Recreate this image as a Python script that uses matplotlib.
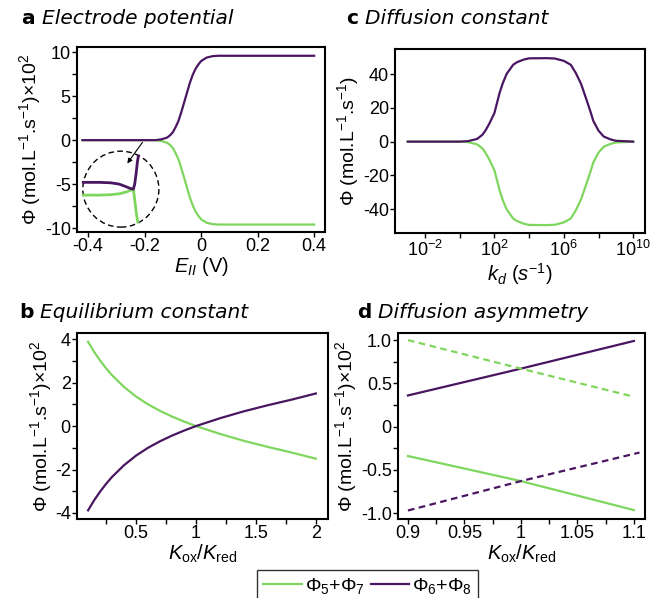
import matplotlib
matplotlib.use('Agg')
import matplotlib.pyplot as plt
from matplotlib.patches import Ellipse
from matplotlib.ticker import MultipleLocator, FixedLocator, NullFormatter

plt.rcParams['font.family'] = ['Liberation Sans', 'DejaVu Sans']
plt.rcParams['mathtext.fontset'] = 'custom'
plt.rcParams['mathtext.rm'] = 'Liberation Sans'
plt.rcParams['mathtext.it'] = 'Liberation Sans:italic'
plt.rcParams['mathtext.bf'] = 'Liberation Sans:bold'
plt.rcParams['axes.unicode_minus'] = False

GREEN = '#7fd65e'
PURPLE = '#4a1661'

# --------------------------
# DATA
# --------------------------

# a: electrode potential
e_ii = [-0.42, -0.2, -0.16, -0.14, -0.12, -0.11, -0.10, -0.09, -0.08, -0.07, -0.06, -0.05,
        -0.04, -0.03, -0.02, -0.01, 0.0, 0.02, 0.04, 0.06, 0.1, 0.4]
phi_a_purple = [0, 0, 0.0, 0.1, 0.3, 0.55, 0.9, 1.5, 2.2, 3.2, 4.3, 5.4,
                6.5, 7.4, 8.1, 8.6, 9.0, 9.4, 9.55, 9.6, 9.6, 9.6]
phi_a_green = [0, 0, 0.0, -0.1, -0.3, -0.55, -0.9, -1.5, -2.2, -3.2, -4.3, -5.4,
               -6.5, -7.4, -8.1, -8.6, -9.0, -9.4, -9.55, -9.6, -9.6, -9.6]

# a: zoomed detail inside the dashed circle
zoom_x_purple = [-0.417, -0.36, -0.32, -0.29, -0.265, -0.25, -0.24, -0.235, -0.23, -0.226, -0.222]
zoom_y_purple = [-4.8, -4.8, -4.85, -5.0, -5.3, -5.5, -5.57, -5.0, -3.8, -2.6, -1.8]
zoom_x_green = [-0.417, -0.36, -0.32, -0.29, -0.265, -0.25, -0.24, -0.236, -0.232, -0.228, -0.224]
zoom_y_green = [-6.25, -6.25, -6.2, -6.1, -5.9, -5.7, -5.57, -6.5, -7.6, -8.6, -9.3]

# c: diffusion constant
kd = [1e-3, 1e-1, 1e0, 3e0, 1e1, 2e1, 3e1, 5e1, 1e2, 2e2, 3e2, 5e2, 1.2e3, 2e3, 5e3,
      1e4, 1e5, 3e5, 1e6, 2.5e6, 5e6, 1e7, 2e7, 3.5e7, 5e7, 1e8, 2e8, 5e8, 1e9, 1e10]
phi_c_purple = [0, 0, 0, 0.3, 1.6, 4, 6.5, 10.5, 17, 29, 34.5, 40, 45.5, 47, 48.6,
                49.3, 49.4, 49.2, 47.8, 45.5, 40.5, 34, 25, 17.5, 12.3, 6.5, 3, 1.3, 0.5, 0]
phi_c_green = [0, 0, 0, -0.3, -1.6, -4, -6.5, -10.5, -17, -29, -34.5, -40, -45.5, -47, -48.6,
               -49.3, -49.4, -49.2, -47.8, -45.5, -40.5, -34, -25, -17.5, -12.3, -6.5, -3, -1.3, -0.5, 0]

# b: equilibrium constant
k_ratio_b = [0.1, 0.15, 0.2, 0.25, 0.3, 0.4, 0.5, 0.6, 0.7, 0.8, 0.9, 1.0, 1.2, 1.4, 1.6, 1.8, 2.0]
phi_b_green = [3.88, 3.42, 3.02, 2.66, 2.34, 1.8, 1.36, 1.0, 0.7, 0.44, 0.21, 0,
               -0.36, -0.68, -0.96, -1.22, -1.5]
phi_b_purple = [-3.88, -3.42, -3.02, -2.66, -2.34, -1.8, -1.36, -1.0, -0.7, -0.44, -0.21, 0,
                0.36, 0.68, 0.96, 1.22, 1.5]

# d: diffusion asymmetry
k_ratio_d = [0.9, 1.0, 1.1]
phi_d_purple = [0.36, 0.67, 0.99]
phi_d_green = [-0.34, -0.63, -0.965]
phi_d_green_dash = [1.0, 0.67, 0.345]
k_ratio_d_dash = [0.9, 1.0, 1.105]
phi_d_purple_dash = [-0.97, -0.63, -0.30]

YLAB = r'$\Phi$ (mol.L$^{-1}$.s$^{-1}$)$\times$10$^{2}$'
KLAB = r'$K_{\mathrm{ox}}/K_{\mathrm{red}}$'

fig = plt.figure(figsize=(6.53, 5.98), dpi=100)
ax_a = fig.add_axes([0.118, 0.612, 0.380, 0.309])
ax_c = fig.add_axes([0.605, 0.610, 0.383, 0.308])
ax_b = fig.add_axes([0.118, 0.132, 0.384, 0.311])
ax_d = fig.add_axes([0.6095, 0.132, 0.378, 0.311])

for ax in (ax_a, ax_b, ax_c, ax_d):
    for s in ax.spines.values():
        s.set_linewidth(1.5)
    ax.tick_params(which='both', direction='out', length=3.5, width=1.0, labelsize=13, pad=1)

""" a """
ax_a.plot(e_ii, phi_a_green, color=GREEN, lw=1.6)
ax_a.plot(e_ii, phi_a_purple, color=PURPLE, lw=1.6)
ax_a.plot(zoom_x_green, zoom_y_green, color=GREEN, lw=2)
ax_a.plot(zoom_x_purple, zoom_y_purple, color=PURPLE, lw=2)
ax_a.add_patch(Ellipse((-0.284, -5.57), 0.269, 8.64, fill=False, ls=(0, (4, 2.5)), lw=1.0, color='black'))
ax_a.annotate('', xy=(-0.267, -2.9), xytext=(-0.202, 0.0),
              arrowprops=dict(arrowstyle='-|>', color='black', lw=0.8, mutation_scale=7))
ax_a.set_xlim(-0.439, 0.439)
ax_a.set_ylim(-10.45, 10.57)
ax_a.set_xticks([-0.4, -0.2, 0, 0.2, 0.4])
ax_a.set_xticklabels(['-0.4', '-0.2', '0', '0.2', '0.4'])
ax_a.set_yticks([-10, -5, 0, 5, 10])
ax_a.yaxis.set_minor_locator(MultipleLocator(2.5))
ax_a.set_xlabel(r'$E_{II}$ (V)', fontsize=14.5, labelpad=0)
ax_a.set_ylabel(YLAB, fontsize=14, labelpad=1)

""" c """
ax_c.plot(kd, phi_c_green, color=GREEN, lw=1.6)
ax_c.plot(kd, phi_c_purple, color=PURPLE, lw=1.6)
ax_c.set_xscale('log')
ax_c.set_xlim(10 ** -3.73, 10 ** 10.69)
ax_c.set_ylim(-54.2, 54.8)
ax_c.xaxis.set_major_locator(FixedLocator([1e-2, 1e2, 1e6, 1e10]))
ax_c.xaxis.set_minor_locator(FixedLocator([1e0, 1e4, 1e8]))
ax_c.xaxis.set_minor_formatter(NullFormatter())
ax_c.set_xticklabels([r'10$^{-2}$', r'10$^{2}$', r'10$^{6}$', r'10$^{10}$'])
ax_c.set_yticks([-40, -20, 0, 20, 40])
ax_c.set_xlabel(r'$k_d$ $(s^{-1})$', fontsize=14.5, labelpad=1)
ax_c.set_ylabel(r'$\Phi$ (mol.L$^{-1}$.s$^{-1}$)', fontsize=14, labelpad=1)

""" b """
ax_b.plot(k_ratio_b, phi_b_green, color=GREEN, lw=1.6)
ax_b.plot(k_ratio_b, phi_b_purple, color=PURPLE, lw=1.6)
ax_b.set_xlim(0.008, 2.1)
ax_b.set_ylim(-4.28, 4.28)
ax_b.set_xticks([0.5, 1, 1.5, 2])
ax_b.set_xticklabels(['0.5', '1', '1.5', '2'])
ax_b.xaxis.set_minor_locator(FixedLocator([0.25, 0.75, 1.25, 1.75]))
ax_b.set_yticks([-4, -2, 0, 2, 4])
ax_b.yaxis.set_minor_locator(MultipleLocator(1))
ax_b.set_xlabel(KLAB, fontsize=14.5, labelpad=0)
ax_b.set_ylabel(YLAB, fontsize=14, labelpad=1)

""" d """
ax_d.plot(k_ratio_d, phi_d_green, color=GREEN, lw=1.6)
ax_d.plot(k_ratio_d, phi_d_purple, color=PURPLE, lw=1.6)
ax_d.plot(k_ratio_d, phi_d_green_dash, color=GREEN, lw=1.6, ls=(0, (3, 2)))
ax_d.plot(k_ratio_d_dash, phi_d_purple_dash, color=PURPLE, lw=1.6, ls=(0, (3, 2)))
ax_d.set_xlim(0.8912, 1.1097)
ax_d.set_ylim(-1.069, 1.081)
ax_d.set_xticks([0.9, 0.95, 1.0, 1.05, 1.1])
ax_d.set_xticklabels(['0.9', '0.95', '1', '1.05', '1.1'])
ax_d.xaxis.set_minor_locator(FixedLocator([0.925, 0.975, 1.025, 1.075]))
ax_d.set_yticks([-1, -0.5, 0, 0.5, 1])
ax_d.set_yticklabels(['-1.0', '-0.5', '0', '0.5', '1.0'])
ax_d.yaxis.set_minor_locator(FixedLocator([-0.75, -0.25, 0.25, 0.75]))
ax_d.set_xlabel(KLAB, fontsize=14.5, labelpad=0)
ax_d.set_ylabel(YLAB, fontsize=14, labelpad=1)

# panel titles: bold letter followed by italic name
H = 598.0
W = 653.0
titles = [(21, 18, 'a', 'Electrode potential'),
          (346, 18, 'c', 'Diffusion constant'),
          (19, 312, 'b', 'Equilibrium constant'),
          (357, 312, 'd', 'Diffusion asymmetry')]
for xl, yc, letter, txt in titles:
    t = fig.text(xl / W, 1 - yc / H, letter, family='DejaVu Sans', weight='bold',
                 fontsize=14.5, va='center')
    fig.add_artist(matplotlib.text.Annotation(
        txt, xy=(1, 0.5), xycoords=t, xytext=(5, 0), textcoords='offset points',
        family='DejaVu Sans', style='italic', fontsize=14.5, va='center', ha='left'))

# legend
h1, = ax_b.plot([], [], color=GREEN, lw=1.6)
h2, = ax_b.plot([], [], color=PURPLE, lw=1.6)
leg = fig.legend([h1, h2], [r'$\Phi_5$+$\Phi_7$', r'$\Phi_6$+$\Phi_8$'],
                 loc='upper center', bbox_to_anchor=(0.563, 1 - 570 / H), ncol=2,
                 fontsize=14, frameon=True, fancybox=False, handlelength=2.0,
                 handletextpad=0.15, columnspacing=0.3, borderpad=0.3, borderaxespad=0)
leg.get_frame().set_edgecolor('black')
leg.get_frame().set_linewidth(1.0)

plt.savefig('out.png', dpi=100)
